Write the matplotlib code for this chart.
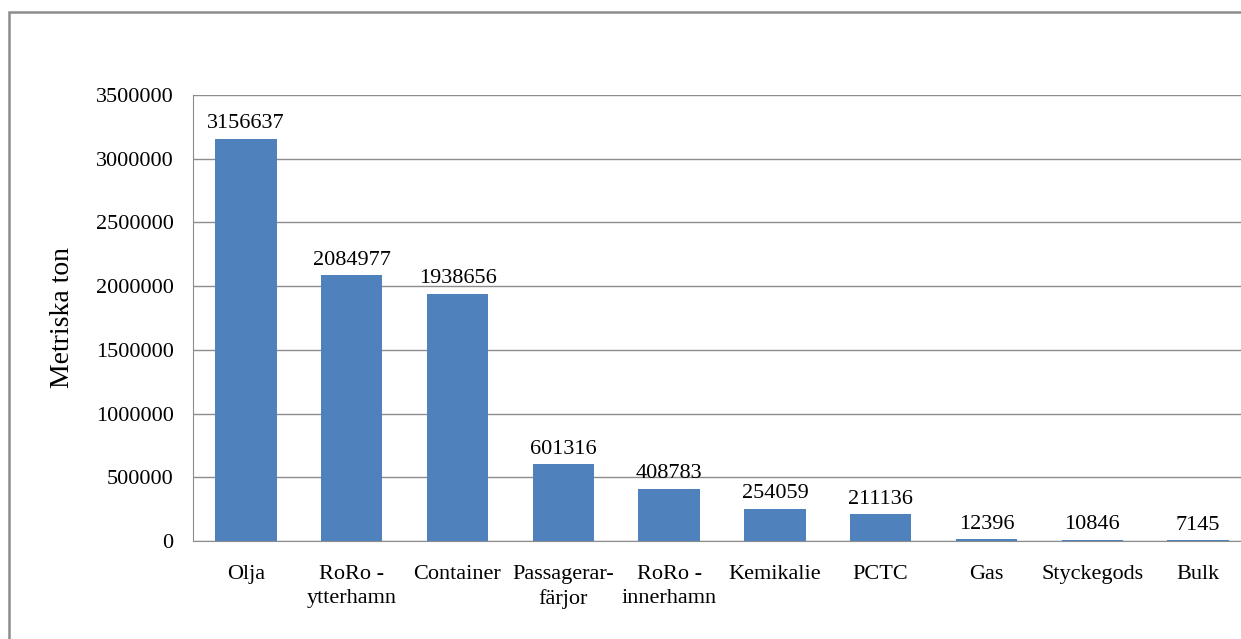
import matplotlib.pyplot as plt
from matplotlib.patches import Rectangle

kategorier = ['Olja', 'RoRo -\nytterhamn', 'Container', 'Passagerar-\nfärjor',
              'RoRo -\ninnerhamn', 'Kemikalie', 'PCTC', 'Gas', 'Styckegods', 'Bulk']
ton = [3156637, 2084977, 1938656, 601316, 408783, 254059, 211136, 12396, 10846, 7145]

plt.rcParams['font.family'] = ['Liberation Serif', 'DejaVu Serif']

fig = plt.figure(figsize=(12.41, 6.39), dpi=100)
# yttre ram
fig.patches.append(Rectangle((9 / 1241, -0.02), 1.05, 0.02 + 1 - 12 / 639,
                             transform=fig.transFigure, fill=False,
                             edgecolor='#8c8c8c', linewidth=1.8))

ax = fig.add_axes([193 / 1241, 1 - 541 / 639, 1058 / 1241, 446 / 639])
x = range(len(kategorier))
bars = ax.bar(x, ton, width=0.58, color='#4f81bd', zorder=3)
ax.bar_label(bars, labels=[str(v) for v in ton], padding=4, fontsize=16)

ax.set_xlim(-0.5, len(kategorier) - 0.5)
ax.set_ylim(0, 3500000)
ax.set_yticks(range(0, 3500001, 500000))
ax.set_yticklabels([str(v) for v in range(0, 3500001, 500000)])
ax.set_xticks(list(x))
ax.set_xticklabels(kategorier, linespacing=1.35)
ax.tick_params(axis='both', length=0, labelsize=16)
ax.tick_params(axis='y', pad=14)
ax.tick_params(axis='x', pad=17)
ax.yaxis.grid(True, color='#8c8c8c', linewidth=1)
ax.set_axisbelow(True)
for s in ['top', 'right']:
    ax.spines[s].set_visible(False)
ax.spines['left'].set_color('#8c8c8c')
ax.spines['bottom'].set_color('#8c8c8c')
ax.set_ylabel('Metriska ton', fontsize=20, labelpad=15)

fig.savefig('out.png', dpi=100)
